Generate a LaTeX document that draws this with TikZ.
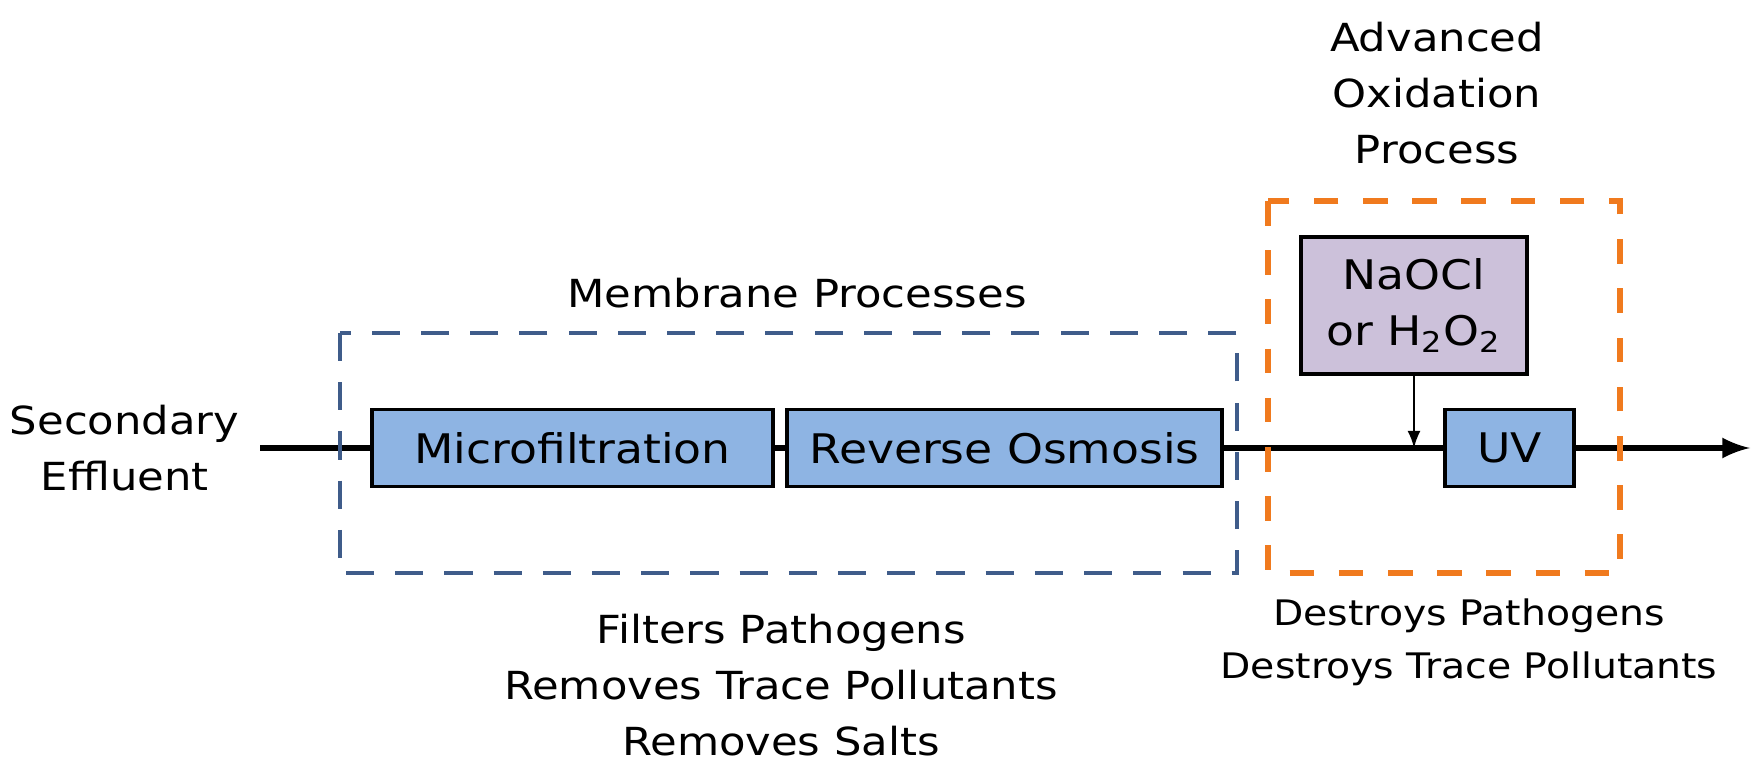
\documentclass[tikz,border=0pt]{standalone}
\usepackage{fontspec}
\setmainfont[FakeStretch=1.12]{DejaVu Sans}
\usepackage{tikz}
\usetikzlibrary{arrows}
\definecolor{procblue}{HTML}{8EB4E3}
\definecolor{chemlilac}{HTML}{CCC1DA}
\definecolor{membraneblue}{HTML}{3F5C8A}
\definecolor{aoporange}{HTML}{F07A1E}
\tikzstyle{procbox} = [draw=black, fill=procblue, line width=1.1pt, rectangle, minimum height=0.77cm, inner sep=0pt, font=\boxtxt]
\tikzstyle{chembox} = [draw=black, fill=chemlilac, line width=1.1pt, rectangle, minimum width=2.26cm, minimum height=1.37cm, inner sep=0pt, align=center, font=\boxtxt]
\tikzstyle{membranebox} = [draw=membraneblue, line width=1.4pt, dash pattern=on 8pt off 6pt]
\tikzstyle{aopbox} = [draw=aoporange, line width=1.8pt, dash pattern=on 7pt off 7pt]
\tikzstyle{lbl} = [align=center, inner sep=0pt, font=\txt]
\tikzstyle{flow} = [line width=1.7pt]
\newcommand{\txt}{\fontsize{11}{16}\selectfont}
\newcommand{\boxtxt}{\fontsize{11.6}{16}\selectfont}

\begin{document}
\begin{tikzpicture}
\useasboundingbox (0,0) rectangle (17.56,-7.63);
\node [lbl, inner xsep=0.2cm, anchor=east] (sec) at (2.60,-4.48) {Secondary\\Effluent};
\node [procbox, minimum width=4.01cm] (mf) at (5.725,-4.48) {Microfiltration};
\node [procbox, minimum width=4.35cm] (ro) at (10.045,-4.48) {Reverse Osmosis};
\node [procbox, minimum width=1.29cm] (uv) at (15.095,-4.48) {UV};
\node [chembox] (chem) at (14.14,-3.055) {NaOCl\\or H\textsubscript{2}O\textsubscript{2}};
\coordinate (join) at (14.14,-4.48);
\coordinate (out) at (17.50,-4.48);

\draw [flow] (sec.east) -- (mf.west);
\draw [flow] (mf.east) -- (ro.west);
\draw [flow] (ro.east) -- (uv.west);
\draw [flow, -latex] (uv.east) -- (out);
\draw [line width=0.7pt, -latex] (chem.south) -- (join);

\draw [membranebox] (3.40,-3.33) rectangle (12.37,-5.73);
\draw [aopbox] (12.68,-2.01) rectangle (16.20,-5.73);

\node [lbl] (memtitle) at (7.97,-2.93) {Membrane Processes};
\node [lbl] (aoptitle) at (14.37,-0.93) {Advanced\\Oxidation\\Process};
\node [lbl] (memnote) at (7.81,-6.85) {Filters Pathogens\\Removes Trace Pollutants\\Removes Salts};
\node [lbl, font=\fontsize{10}{15}\selectfont] (aopnote) at (14.69,-6.42) {Destroys Pathogens\\Destroys Trace Pollutants};
\end{tikzpicture}
\end{document}
